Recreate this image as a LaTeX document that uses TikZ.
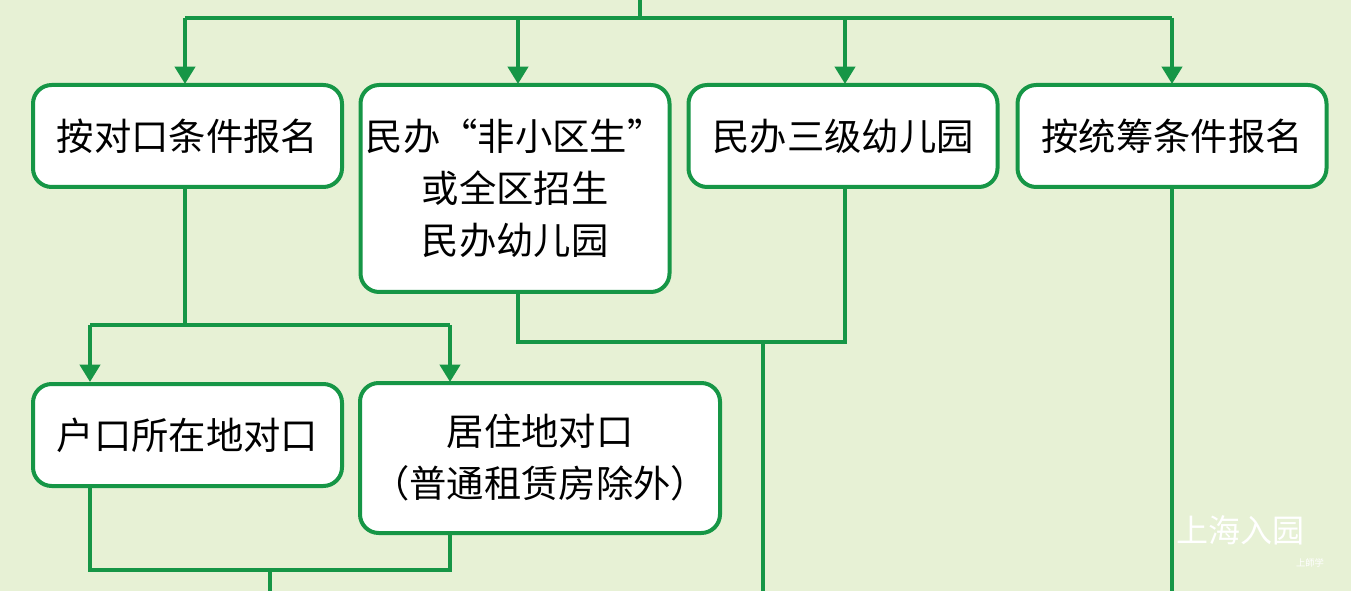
\documentclass[tikz,border=0pt]{standalone}
\usepackage{fontspec}
\setmainfont{Noto Sans CJK SC}
\usetikzlibrary{arrows.meta}
\definecolor{bg}{RGB}{231,241,213}
\definecolor{gr}{RGB}{22,150,70}
\begin{document}
\begin{tikzpicture}[x=0.75pt,y=-0.75pt,
  box/.style={draw=gr,line width=3pt,fill=white,rounded corners=14pt,align=center,font=\fontsize{28}{39}\selectfont,inner sep=0pt},
  ln/.style={draw=gr,line width=3pt},
  ar/.style={ln,-{Triangle[length=13pt,width=15pt]}}]
\fill[bg] (0,0) rectangle (1351,591);
\useasboundingbox (0,0) rectangle (1351,591);
\node[box,minimum width=231.75pt,minimum height=76.5pt] (b1) at (187.5,136) {按对口条件报名};
\node[box,minimum width=231.75pt,minimum height=155.25pt] (b2) at (515,188.5) {民办“非小区生”\\或全区招生\\民办幼儿园};
\node[box,minimum width=231.75pt,minimum height=76.5pt] (b3) at (843,136) {民办三级幼儿园};
\node[box,minimum width=231.75pt,minimum height=76.5pt] (b4) at (1172,136) {按统筹条件报名};
\node[box,minimum width=231.75pt,minimum height=76.5pt] (b5) at (187.5,435) {户口所在地对口};
\node[box,minimum width=270pt,minimum height=112.5pt] (b6) at (540,458) {居住地对口\\（普通租赁房除外）};
\coordinate (t0) at (640,0);
\coordinate (t1) at (640,18);
\draw[ln] (t0)--(t1);
\draw[ln] (185,18)--(1172,18);
\draw[ar] (185,18)--(185,84);
\draw[ar] (518,18)--(518,84);
\draw[ar] (845,18)--(845,84);
\draw[ar] (1172,18)--(1172,84);
\draw[ln] (b1.south -| 185,0)--(185,325);
\draw[ln] (90,325)--(450,325);
\draw[ar] (90,325)--(90,382);
\draw[ar] (450,325)--(450,382);
\draw[ln] (b2.south -| 518,0)--(518,342)--(845,342)--(b3.south -| 845,0);
\draw[ln] (763,342)--(763,591);
\draw[ln] (b5.south -| 90,0)--(90,570)--(450,570)--(b6.south -| 450,0);
\draw[ln] (270,570)--(270,591);
\draw[ln] (b4.south -| 1172,0)--(1172,591);
\node[text=white,font=\fontsize{24}{24}\selectfont] (wm) at (1240,530) {上海入园};
\node[text=white,font=\fontsize{7}{7}\selectfont] (wm2) at (1310,563) {上師学};
\end{tikzpicture}
\end{document}
